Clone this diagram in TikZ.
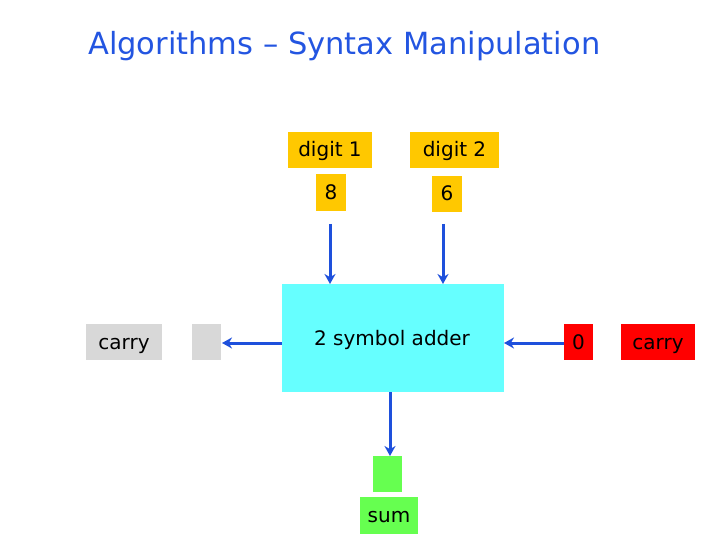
\documentclass[tikz,border=0pt]{standalone}
\usepackage{fontspec}
\setmainfont{DejaVu Sans}
\usetikzlibrary{arrows.meta}
\definecolor{ttlblue}{RGB}{35,85,225}
\definecolor{arrblue}{RGB}{30,80,220}
\definecolor{digyel}{RGB}{255,200,0}
\definecolor{addcyan}{RGB}{102,255,255}
\definecolor{carrygray}{RGB}{216,216,216}
\definecolor{carryred}{RGB}{255,0,0}
\definecolor{sumgreen}{RGB}{102,255,80}
\tikzset{
  box/.style={inner sep=0pt, outer sep=0pt, font=\fontsize{20}{24}\selectfont, text=black, text height=16pt, text depth=2pt},
  conn/.style={draw=arrblue, line width=3pt, -{Stealth[length=10pt,width=11pt]}},
}
\begin{document}
\begin{tikzpicture}[x=1pt,y=-1pt]
\useasboundingbox (0,0) rectangle (720,540);
\node[anchor=base west, text=ttlblue, font=\fontsize{30.5}{34}\selectfont, inner sep=0pt] (title) at (88,55) {Algorithms – Syntax Manipulation};
\node[box, fill=digyel, minimum width=84pt, minimum height=36pt] (d1) at (330,150) {digit 1};
\node[box, fill=digyel, minimum width=89pt, minimum height=36pt] (d2) at (454.5,150) {digit 2};
\node[box, fill=digyel, minimum width=30pt, minimum height=37pt] (v1) at (331,192.5) {8};
\node[box, fill=digyel, minimum width=30pt, minimum height=36pt] (v2) at (447,194) {6};
\coordinate (a1) at (330,224);
\coordinate (a2) at (443,224);
\node[box, fill=addcyan, minimum width=222pt, minimum height=108pt] (add) at (393,338) {};
\node[box] (addtxt) at (392,338) {2 symbol adder};
\node[box, fill=carrygray, minimum width=76pt, minimum height=36pt] (cl) at (124,342) {carry};
\node[box, fill=carrygray, minimum width=29pt, minimum height=36pt] (cout) at (206.5,342) {};
\node[box, fill=carryred, minimum width=29pt, minimum height=36pt] (cin) at (578.5,342) {0};
\node[box, fill=carryred, minimum width=74pt, minimum height=36pt] (cr) at (658,342) {carry};
\node[box, fill=sumgreen, minimum width=29pt, minimum height=36pt] (sout) at (387.5,474) {};
\node[box, fill=sumgreen, minimum width=58pt, minimum height=37pt] (sl) at (389,515.5) {sum};
\draw[conn] (a1) -- (a1 |- add.north);
\draw[conn] (a2) -- (a2 |- add.north);
\draw[conn] (add.west |- 0,343) -- ([xshift=1pt]cout.east |- 0,343);
\draw[conn] (cin.west |- 0,343) -- (add.east |- 0,343);
\draw[conn] (add.south -| 390,0) -- (sout.north -| 390,0);
\end{tikzpicture}
\end{document}
